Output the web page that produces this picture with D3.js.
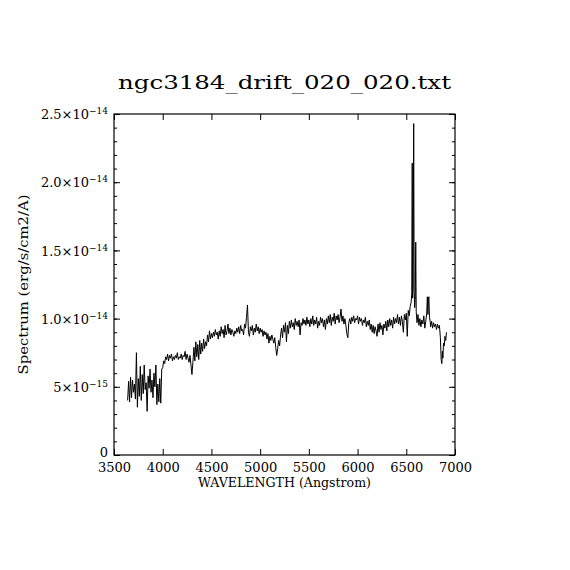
<!DOCTYPE html>
<html lang="en">
<head>
<meta charset="UTF-8">
<title>ngc3184_drift_020_020.txt</title>
<script src="https://d3js.org/d3.v7.min.js"></script>
<style>
    body { margin: 0; background: #fff; }
    svg { display: block; }
    text { font-family: 'DejaVu Serif', 'Liberation Serif', serif; fill: #000; }
    .axis text { font-size: 13px; }
</style>
</head>
<body>
<svg id="chart" width="570" height="570"></svg>
<script>
// Spectrum: wavelength in Angstrom, flux in units of 1e-15 erg/s/cm2/A
const wavelength = [
    3640, 3650, 3660, 3670, 3680, 3690, 3700, 3710, 3720, 3730, 3740, 3750, 3760, 3770, 3780, 3790,
    3800, 3810, 3820, 3830, 3840, 3850, 3860, 3870, 3880, 3890, 3900, 3910, 3920, 3930, 3940, 3950,
    3960, 3970, 3980, 3990, 4000, 4010, 4020, 4030, 4040, 4050, 4060, 4070, 4080, 4090, 4100, 4110,
    4120, 4130, 4140, 4150, 4160, 4170, 4180, 4190, 4200, 4210, 4220, 4230, 4240, 4250, 4260, 4270,
    4280, 4290, 4300, 4310, 4320, 4330, 4340, 4350, 4360, 4370, 4380, 4390, 4400, 4410, 4420, 4430,
    4440, 4450, 4460, 4470, 4480, 4490, 4500, 4510, 4520, 4530, 4540, 4550, 4560, 4570, 4580, 4590,
    4600, 4610, 4620, 4630, 4640, 4650, 4660, 4670, 4680, 4690, 4700, 4710, 4720, 4730, 4740, 4750,
    4760, 4770, 4780, 4790, 4800, 4810, 4820, 4830, 4840, 4850, 4860, 4870, 4880, 4890, 4900, 4910,
    4920, 4930, 4940, 4950, 4960, 4970, 4980, 4990, 5000, 5010, 5020, 5030, 5040, 5050, 5060, 5070,
    5080, 5090, 5100, 5110, 5120, 5130, 5140, 5150, 5160, 5170, 5180, 5190, 5200, 5210, 5220, 5230,
    5240, 5250, 5260, 5270, 5280, 5290, 5300, 5310, 5320, 5330, 5340, 5350, 5360, 5370, 5380, 5390,
    5400, 5410, 5420, 5430, 5440, 5450, 5460, 5470, 5480, 5490, 5500, 5510, 5520, 5530, 5540, 5550,
    5560, 5570, 5580, 5590, 5600, 5610, 5620, 5630, 5640, 5650, 5660, 5670, 5680, 5690, 5700, 5710,
    5720, 5730, 5740, 5750, 5760, 5770, 5780, 5790, 5800, 5810, 5820, 5830, 5840, 5850, 5860, 5870,
    5880, 5890, 5900, 5910, 5920, 5930, 5940, 5950, 5960, 5970, 5980, 5990, 6000, 6010, 6020, 6030,
    6040, 6050, 6060, 6070, 6080, 6090, 6100, 6110, 6120, 6130, 6140, 6150, 6160, 6170, 6180, 6190,
    6200, 6210, 6220, 6230, 6240, 6250, 6260, 6270, 6280, 6290, 6300, 6310, 6320, 6330, 6340, 6350,
    6360, 6370, 6380, 6390, 6400, 6410, 6420, 6430, 6440, 6450, 6460, 6470, 6480, 6490, 6500, 6510,
    6520, 6530, 6540, 6550, 6556, 6561, 6565, 6570, 6576, 6581, 6586, 6592, 6597, 6602, 6610, 6620,
    6630, 6640, 6650, 6660, 6670, 6680, 6690, 6700, 6710, 6716, 6722, 6727, 6732, 6738, 6745, 6750,
    6760, 6770, 6780, 6790, 6800, 6810, 6820, 6830, 6840, 6850, 6858, 6865, 6870, 6876, 6882, 6890,
    6897, 6905, 6912
];
const flux = [
    4.0, 5.4, 3.9, 5.7, 4.2, 5.5, 4.6, 5.2, 4.1, 7.5, 3.5, 5.6, 4.3, 6.5, 4.0, 5.9,
    4.5, 6.6, 4.8, 5.3, 3.2, 5.8, 4.9, 6.3, 4.6, 5.5, 4.2, 6.0, 5.0, 6.6, 3.7, 5.2,
    3.9, 5.6, 3.8, 6.3, 6.4, 6.9, 6.7, 7.2, 7.0, 7.4, 6.9, 7.3, 7.1, 7.4, 6.9, 7.2,
    7.0, 7.3, 7.1, 7.5, 7.0, 7.2, 7.1, 7.4, 7.0, 7.3, 7.2, 7.6, 7.0, 7.4, 7.1, 6.8,
    7.3, 6.6, 5.9, 6.8, 7.9, 6.9, 8.3, 7.2, 8.1, 7.0, 8.4, 7.4, 8.2, 7.6, 8.5, 7.8,
    8.3, 8.0, 8.8, 8.3, 9.1, 8.5, 8.9, 8.6, 9.0, 8.7, 9.2, 8.8, 9.0, 8.5, 9.1, 8.7,
    9.4, 8.9, 9.2, 8.6, 9.5, 8.8, 9.1, 9.6, 8.9, 9.3, 8.8, 9.2, 9.0, 8.7, 9.1, 8.9,
    9.3, 9.0, 9.4, 8.9, 9.5, 9.1, 9.2, 8.8, 9.6, 9.3, 10.1, 11.0, 9.0, 8.7, 9.4, 9.1,
    9.5, 8.8, 9.3, 9.0, 9.6, 9.1, 9.4, 8.9, 9.3, 9.0, 9.2, 8.7, 9.1, 8.8, 9.0, 8.5,
    8.9, 8.2, 8.7, 8.4, 8.8, 8.5, 8.2, 8.6, 7.9, 7.3, 7.8, 8.4, 8.0, 8.8, 9.3, 8.6,
    9.5, 9.0, 9.7, 8.3, 9.5, 8.9, 9.8, 9.3, 9.9, 9.4, 9.7, 9.2, 10.0, 9.5, 9.8, 9.4,
    9.9, 8.8, 9.7, 9.5, 10.0, 9.6, 9.9, 9.5, 10.1, 9.6, 9.9, 9.4, 10.0, 9.6, 10.2, 9.5,
    9.9, 9.6, 10.1, 9.3, 9.8, 9.5, 10.1, 9.7, 10.0, 9.4, 9.9, 9.2, 10.0, 9.6, 10.2, 9.7,
    10.3, 9.5, 10.1, 9.8, 10.4, 9.6, 10.2, 9.9, 10.3, 9.7, 10.1, 10.7, 9.8, 10.2, 9.6, 10.0,
    9.5, 8.9, 8.6, 9.7, 10.0, 9.6, 10.1, 9.8, 10.2, 9.7, 10.0, 9.9, 10.2, 9.6, 10.1, 9.8,
    10.0, 9.5, 9.9, 9.7, 10.1, 9.4, 9.8, 9.5, 9.9, 9.2, 9.6, 9.0, 9.5, 8.9, 9.4, 9.1,
    8.7, 9.6, 9.0, 9.7, 9.2, 9.5, 8.8, 9.6, 9.3, 9.8, 9.1, 9.9, 9.4, 10.0, 9.5, 9.9,
    9.3, 10.1, 9.6, 10.0, 9.7, 10.3, 9.6, 10.1, 9.5, 10.2, 9.8, 9.0, 10.3, 9.9, 10.4, 8.7,
    10.6, 10.2, 10.9, 11.2, 11.8, 21.4, 11.5, 12.3, 24.3, 12.0, 10.8, 11.4, 15.6, 10.5, 9.7, 10.3,
    9.5, 10.0, 9.4, 9.9, 9.6, 10.2, 9.3, 9.8, 10.4, 11.6, 10.3, 11.3, 11.6, 10.1, 9.8, 9.4,
    9.8, 9.3, 9.7, 9.4, 9.6, 9.2, 9.6, 9.3, 9.5, 8.6, 7.0, 6.7, 7.6, 7.1, 8.2, 8.0,
    8.7, 8.4, 9.0
];

// Axis ticks and labels
const xTicks = [3500, 4000, 4500, 5000, 5500, 6000, 6500, 7000];
const yTicks = [0, 5e-15, 1e-14, 1.5e-14, 2e-14, 2.5e-14];
const yMantissa = ["0", "5", "1.0", "1.5", "2.0", "2.5"];
const yExponent = ["", "−15", "−14", "−14", "−14", "−14"];

const title = "ngc3184_drift_020_020.txt";
const xTitle = "WAVELENGTH (Angstrom)";
const yTitle = "Spectrum (erg/s/cm2/A)";

const margin = { top: 114, right: 115, bottom: 115, left: 114 };
const width = 570 - margin.left - margin.right;
const height = 570 - margin.top - margin.bottom;

const svg = d3.select("#chart");
const g = svg.append("g")
    .attr("transform", `translate(${margin.left},${margin.top})`);

const x = d3.scaleLinear().domain([3500, 7000]).range([0, width]);
const y = d3.scaleLinear().domain([0, 2.5e-14]).range([height, 0]);

const data = wavelength.map((w, i) => ({ w, f: flux[i] * 1e-15 }));

// Spectrum line
g.append("path")
    .datum(data)
    .attr("fill", "none")
    .attr("stroke", "#000")
    .attr("stroke-width", 1)
    .attr("d", d3.line().x(d => x(d.w)).y(d => y(d.f)));

// Ticks (inward, on all four sides)
const major = 6, minor = 3;

g.append("g").attr("class", "axis")
    .attr("transform", `translate(0,${height})`)
    .call(d3.axisBottom(x).tickValues(xTicks).tickSize(-major).tickSizeOuter(0).tickPadding(8).tickFormat(d3.format("d")));

g.append("g").attr("class", "axis")
    .call(d3.axisTop(x).tickValues(xTicks).tickSize(-major).tickSizeOuter(0).tickFormat(""));

const yAxisLeft = g.append("g").attr("class", "axis")
    .call(d3.axisLeft(y).tickValues(yTicks).tickSize(-major).tickSizeOuter(0).tickPadding(6).tickFormat(""));

g.append("g").attr("class", "axis")
    .call(d3.axisLeft(y).ticks(25).tickSize(-minor).tickSizeOuter(0).tickFormat(""));

g.append("g").attr("class", "axis")
    .attr("transform", `translate(${width},0)`)
    .call(d3.axisRight(y).tickValues(yTicks).tickSize(-major).tickSizeOuter(0).tickFormat(""));

g.append("g").attr("class", "axis")
    .attr("transform", `translate(${width},0)`)
    .call(d3.axisRight(y).ticks(25).tickSize(-minor).tickSizeOuter(0).tickFormat(""));

g.selectAll(".axis .domain").remove();
g.selectAll(".axis line").attr("stroke", "#000");

// Y tick labels as mantissa x 10^exponent
yAxisLeft.selectAll(".tick text").each(function(d, i) {
    const t = d3.select(this);
    t.text(null).attr("dy", "0.36em");
    if (yExponent[i] === "") {
        // lone zero sits a touch higher so it clears the 3500 label
        t.attr("dy", "0.1em").append("tspan").text(yMantissa[i]);
        return;
    }
    t.append("tspan").text(yMantissa[i] + "×10");
    t.append("tspan")
        .attr("dy", "-0.55em")
        .attr("font-size", "9px")
        .text(yExponent[i]);
});

// Frame
g.append("rect")
    .attr("width", width)
    .attr("height", height)
    .attr("fill", "none")
    .attr("stroke", "#000")
    .attr("stroke-width", 1.2);

// Titles
svg.append("text")
    .attr("x", margin.left + width / 2)
    .attr("y", 89)
    .attr("text-anchor", "middle")
    .attr("font-size", "19px")
    .attr("textLength", 333)
    .attr("lengthAdjust", "spacingAndGlyphs")
    .text(title);

svg.append("text")
    .attr("x", margin.left + width / 2)
    .attr("y", 487)
    .attr("text-anchor", "middle")
    .attr("font-size", "12px")
    .attr("textLength", 173)
    .attr("lengthAdjust", "spacingAndGlyphs")
    .text(xTitle);

svg.append("text")
    .attr("transform", `translate(28,${margin.top + height / 2}) rotate(-90)`)
    .attr("text-anchor", "middle")
    .attr("font-size", "12px")
    .attr("textLength", 180)
    .attr("lengthAdjust", "spacingAndGlyphs")
    .text(yTitle);
</script>
</body>
</html>
